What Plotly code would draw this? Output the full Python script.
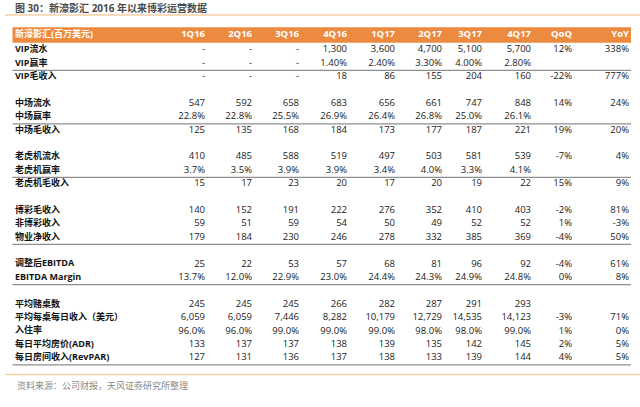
import plotly.graph_objects as go

# ---- data -------------------------------------------------------------
title = "图 30：新濠影汇 2016 年以来博彩运营数据"
source = "资料来源：公司财报，天风证券研究所整理"
header_label = "新濠影汇(百万美元)"
columns = ["1Q16", "2Q16", "3Q16", "4Q16", "1Q17", "2Q17", "3Q17", "4Q17", "QoQ", "YoY"]

vip_turnover = ["-", "-", "-", "1,300", "3,600", "4,700", "5,100", "5,700", "12%", "338%"]
vip_win_rate = ["-", "-", "-", "1.40%", "2.40%", "3.30%", "4.00%", "2.80%", "", ""]
vip_ggr = ["-", "-", "-", "18", "86", "155", "204", "160", "-22%", "777%"]

mass_turnover = ["547", "592", "658", "683", "656", "661", "747", "848", "14%", "24%"]
mass_win_rate = ["22.8%", "22.8%", "25.5%", "26.9%", "26.4%", "26.8%", "25.0%", "26.1%", "", ""]
mass_ggr = ["125", "135", "168", "184", "173", "177", "187", "221", "19%", "20%"]

slot_turnover = ["410", "485", "588", "519", "497", "503", "581", "539", "-7%", "4%"]
slot_win_rate = ["3.7%", "3.5%", "3.9%", "3.9%", "3.4%", "4.0%", "3.3%", "4.1%", "", ""]
slot_ggr = ["15", "17", "23", "20", "17", "20", "19", "22", "15%", "9%"]

gaming_revenue = ["140", "152", "191", "222", "276", "352", "410", "403", "-2%", "81%"]
non_gaming_revenue = ["59", "51", "59", "54", "50", "49", "52", "52", "1%", "-3%"]
net_revenue = ["179", "184", "230", "246", "278", "332", "385", "369", "-4%", "50%"]

adj_ebitda = ["25", "22", "53", "57", "68", "81", "96", "92", "-4%", "61%"]
ebitda_margin = ["13.7%", "12.0%", "22.9%", "23.0%", "24.4%", "24.3%", "24.9%", "24.8%", "0%", "8%"]

tables = ["245", "245", "245", "266", "282", "287", "291", "293", "", ""]
win_per_table = ["6,059", "6,059", "7,446", "8,282", "10,179", "12,729", "14,535", "14,123", "-3%", "71%"]
occupancy = ["96.0%", "96.0%", "99.0%", "99.0%", "99.0%", "98.0%", "98.0%", "99.0%", "1%", "0%"]
adr = ["133", "137", "137", "138", "139", "135", "142", "145", "2%", "5%"]
revpar = ["127", "131", "136", "137", "138", "133", "139", "144", "4%", "5%"]

# (label, values); None = spacer row
rows = [
    ("VIP流水", vip_turnover),
    ("VIP赢率", vip_win_rate),
    ("VIP毛收入", vip_ggr),
    None,
    ("中场流水", mass_turnover),
    ("中场赢率", mass_win_rate),
    ("中场毛收入", mass_ggr),
    None,
    ("老虎机流水", slot_turnover),
    ("老虎机赢率", slot_win_rate),
    ("老虎机毛收入", slot_ggr),
    None,
    ("博彩毛收入", gaming_revenue),
    ("非博彩收入", non_gaming_revenue),
    ("物业净收入", net_revenue),
    None,
    ("调整后EBITDA", adj_ebitda),
    ("EBITDA Margin", ebitda_margin),
    None,
    ("平均赌桌数", tables),
    ("平均每桌每日收入（美元）", win_per_table),
    ("入住率", occupancy),
    ("每日平均房价(ADR)", adr),
    ("每日房间收入(RevPAR)", revpar),
]
rule_after = ["VIP赢率", "中场赢率", "老虎机赢率", "物业净收入", "EBITDA Margin", "每日房间收入(RevPAR)"]

# ---- layout constants -------------------------------------------------
W, H = 640, 407
col_right = [205, 252, 299, 347, 395, 442, 482, 531, 572, 629]
label_x = 15
table_left, table_right = 12.5, 631
row0_px, pitch = 50, 13.39
header_row = -1.12

ORANGE = "#EC8B40"
LIGHT_ORANGE = "#F7CFA6"
GREY = "#8E8E8E"
FONT = "Open Sans, Noto Sans CJK SC, sans-serif"

fig = go.Figure()

# header bar
fig.add_shape(type="rect", x0=table_left, x1=table_right, y0=header_row - 0.58, y1=header_row + 0.58,
              fillcolor=ORANGE, line_width=0, layer="below")

fig.add_scatter(x=[label_x], y=[header_row], text=[header_label], mode="text",
                textposition="middle right",
                textfont=dict(family=FONT, size=9, color="white", weight="bold"))
fig.add_scatter(x=col_right, y=[header_row] * len(columns), text=columns, mode="text",
                textposition="middle left",
                textfont=dict(family=FONT, size=9.5, color="white", weight="bold"))

row_y, labels = [], []
for i, r in enumerate(rows):
    if r is None:
        continue
    row_y.append(i)
    labels.append(r[0])

fig.add_scatter(x=[label_x] * len(labels), y=row_y, text=labels, mode="text",
                textposition="middle right",
                textfont=dict(family=FONT, size=9, color="#111111", weight="bold"))

for j, cx in enumerate(col_right):
    vals = [r[1][j] for r in rows if r is not None]
    fig.add_scatter(x=[cx] * len(vals), y=row_y, text=vals, mode="text",
                    textposition="middle left",
                    textfont=dict(family=FONT, size=9.5, color="#222222"))

# grey rules
for i, r in enumerate(rows):
    if r is not None and r[0] in rule_after:
        fig.add_shape(type="line", x0=table_left, x1=table_right, y0=i + 0.52, y1=i + 0.52,
                      line=dict(color=GREY, width=1.3))

# orange rules (top and bottom)
top_rule = (15 - row0_px) / pitch
bottom_rule = (374.5 - row0_px) / pitch
for yr in (top_rule, bottom_rule):
    fig.add_shape(type="line", x0=5, x1=640, y0=yr, y1=yr,
                  line=dict(color=LIGHT_ORANGE, width=1.5))

fig.add_annotation(text=title, xref="paper", yref="paper", x=13 / W, y=1 - 8 / H,
                   xanchor="left", yanchor="middle", showarrow=False,
                   font=dict(family=FONT, size=10, color="#4A4A4A", weight="bold"))
fig.add_annotation(text=source, xref="paper", yref="paper", x=15 / W, y=1 - 385 / H,
                   xanchor="left", yanchor="middle", showarrow=False,
                   font=dict(family=FONT, size=9, color="#8A8A8A"))

fig.update_xaxes(range=[0, W], visible=False, fixedrange=True)
fig.update_yaxes(range=[(H - row0_px) / pitch, -row0_px / pitch], visible=False, fixedrange=True)
fig.update_layout(width=W, height=H, margin=dict(l=0, r=0, t=0, b=0),
                  plot_bgcolor="white", paper_bgcolor="white", showlegend=False,
                  hovermode=False)

# the default page has an 8px body margin; drop it so the figure fills the window
fig.write_html("out.html", config={"displayModeBar": False},
               post_script="document.body.style.margin='0';")
